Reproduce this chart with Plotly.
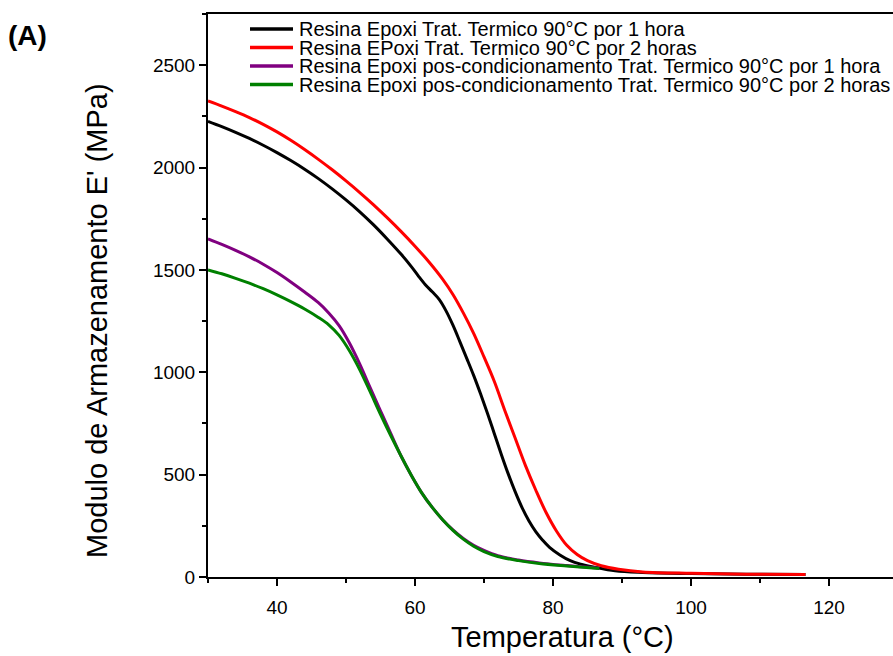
import plotly.graph_objects as go

# Temperatura (°C) and storage modulus E' (MPa) for each sample
temp_1h = [30, 32, 34, 36, 38, 40, 42, 44, 46, 48, 50, 52, 54, 56, 58, 59.5, 60.5,
           61.5, 62.5, 63.5, 64.5, 65.5, 66.5, 67.5, 68.5, 69.5, 70.5, 71.5, 72.5,
           73.5, 74.5, 75.5, 76.5, 77.5, 78.5, 79.5, 81, 82.5, 84, 86, 89, 93, 100,
           108, 116.6]
mod_1h = [2226, 2200, 2172, 2142, 2109, 2073, 2034, 1992, 1946, 1896, 1842, 1784,
          1720, 1650, 1576, 1515, 1470, 1428, 1393, 1356, 1300, 1230, 1150, 1068,
          985, 895, 800, 700, 600, 505, 418, 340, 275, 222, 180, 145, 108, 80, 63,
          48, 30, 22, 17, 14, 12]

temp_2h = [30, 32, 34, 36, 38, 40, 42, 44, 46, 48, 50, 52, 54, 56, 58, 60, 62, 64,
           65.5, 67, 68.5, 70, 71.5, 73, 74.5, 76, 77.5, 79, 80.5, 82, 83.5, 85, 87,
           89.5, 93, 100, 108, 116.6]
mod_2h = [2325, 2300, 2273, 2244, 2211, 2174, 2133, 2088, 2040, 1989, 1935, 1878,
          1818, 1754, 1687, 1616, 1540, 1455, 1380, 1290, 1190, 1075, 955, 815, 680,
          545, 425, 315, 225, 155, 110, 80, 55, 38, 25, 18, 14, 12]

temp_pos_1h = [30, 32, 34, 36, 38, 40, 42, 44, 46, 47.5, 49, 50.5, 52, 53.5, 55,
               56.5, 58, 59.5, 61, 62.5, 64, 65.5, 67, 68.5, 70, 72, 75, 78, 82, 86.7]
mod_pos_1h = [1652, 1625, 1596, 1564, 1528, 1487, 1441, 1392, 1340, 1290, 1228,
              1143, 1040, 925, 812, 700, 590, 495, 410, 340, 280, 230, 188, 155, 130,
              104, 83, 69, 56, 43]

temp_pos_2h = [30, 32, 34, 36, 38, 40, 42, 44, 46, 47.5, 49, 50.5, 52, 53.5, 55,
               56.5, 58, 59.5, 61, 62.5, 64, 65.5, 67, 68.5, 70, 72, 75, 78, 82, 86.7]
mod_pos_2h = [1500, 1481, 1459, 1435, 1408, 1378, 1345, 1309, 1268, 1232, 1180,
              1105, 1012, 905, 795, 690, 590, 495, 410, 340, 280, 228, 185, 150, 124,
              100, 80, 66, 54, 42]

series_names = [
    "Resina Epoxi Trat. Termico 90°C por 1 hora",
    "Resina EPoxi Trat. Termico 90°C por 2 horas",
    "Resina Epoxi pos-condicionamento Trat. Termico 90°C por 1 hora",
    "Resina Epoxi pos-condicionamento Trat. Termico 90°C por 2 horas",
]
series_colors = ["#000000", "#ff0000", "#800080", "#008000"]
series_x = [temp_1h, temp_2h, temp_pos_1h, temp_pos_2h]
series_y = [mod_1h, mod_2h, mod_pos_1h, mod_pos_2h]

FONT = "Liberation Sans, Arial, sans-serif"

fig = go.Figure()
for xs, ys, name, color in zip(series_x, series_y, series_names, series_colors):
    fig.add_trace(go.Scatter(
        x=xs, y=ys, mode="lines", name=name,
        line=dict(color=color, width=3, shape="spline", smoothing=1.0),
        showlegend=False,
    ))

# plot area in pixels
L, T = 208, 14
PW, PH = 685, 563
BOTTOM = T + PH


def px_x(px):
    return (px - L) / PW


def px_y(py):
    return (BOTTOM - py) / PH


# hand-built legend with tight row spacing
row_y = [29, 47.5, 66, 84.5]
for name, color, py in zip(series_names, series_colors, row_y):
    fig.add_shape(type="line", xref="paper", yref="paper",
                  x0=px_x(250), x1=px_x(293), y0=px_y(py), y1=px_y(py),
                  line=dict(color=color, width=3.5))
    fig.add_annotation(xref="paper", yref="paper", x=px_x(297), y=px_y(py),
                       xanchor="left", yanchor="middle", text=name, showarrow=False,
                       font=dict(family=FONT, size=20, color="black"))

# panel label
fig.add_annotation(xref="paper", yref="paper", x=px_x(6), y=px_y(35),
                   xanchor="left", yanchor="middle", text="<b>(A)</b>", showarrow=False,
                   font=dict(family=FONT, size=28, color="black"))

# axis titles
fig.add_annotation(xref="paper", yref="paper", x=px_x(562), y=px_y(637),
                   xanchor="center", yanchor="middle", text="Temperatura (°C)",
                   showarrow=False, font=dict(family=FONT, size=29, color="black"))
fig.add_annotation(xref="paper", yref="paper", x=px_x(97), y=px_y(321),
                   xanchor="center", yanchor="middle", textangle=-90,
                   text="Modulo de Armazenamento E' (MPa)",
                   showarrow=False, font=dict(family=FONT, size=29, color="black"))

axis_common = dict(
    showgrid=False, zeroline=False, showline=True, linecolor="black", linewidth=2,
    ticks="outside", ticklen=7, tickwidth=1.5, tickcolor="black",
    tickfont=dict(family=FONT, size=19, color="black"),
    automargin=False,
)

fig.update_xaxes(
    range=[30, 129.28], tick0=40, dtick=20, mirror=True, ticklabelstandoff=5,
    minor=dict(dtick=10, ticks="outside", ticklen=4, tickwidth=1.5, tickcolor="black"),
    **axis_common,
)
fig.update_yaxes(
    range=[0, 2750], tick0=0, dtick=500, mirror=False,
    minor=dict(dtick=250, ticks="outside", ticklen=4, tickwidth=1.5, tickcolor="black"),
    **axis_common,
)

fig.update_layout(
    width=893, height=656,
    margin=dict(l=L, r=0, t=T, b=656 - BOTTOM, pad=0),
    paper_bgcolor="white", plot_bgcolor="white",
    font=dict(family=FONT, color="black"),
)

fig.write_html("out.html")
